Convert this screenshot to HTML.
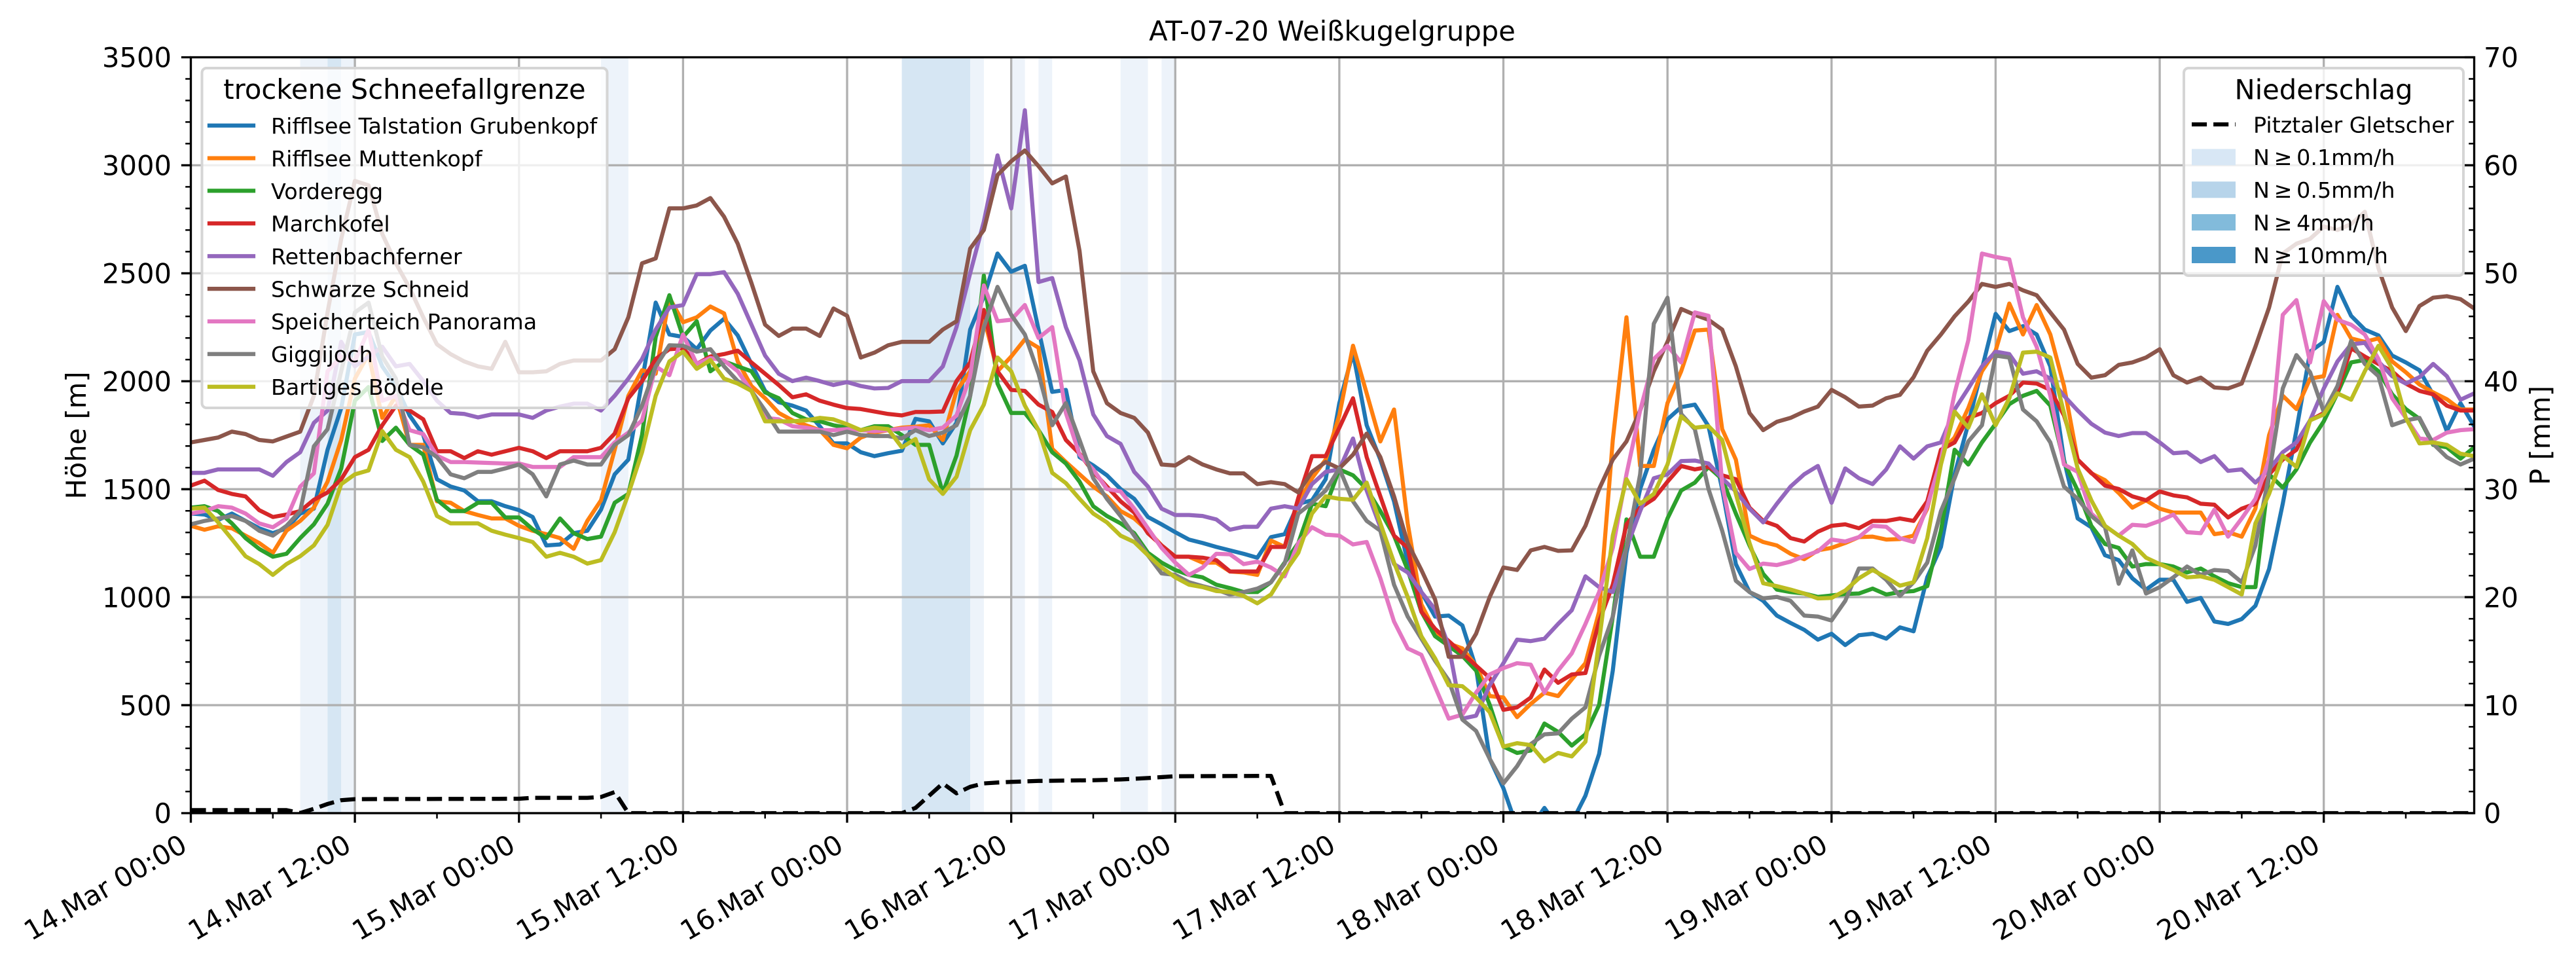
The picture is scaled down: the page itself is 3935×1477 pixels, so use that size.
<!DOCTYPE html>
<html><head><meta charset="utf-8"><style>
html,body{margin:0;padding:0;background:#fff;}
svg{display:block;}
text{font-family:"DejaVu Sans","Liberation Sans",sans-serif;fill:#000;}
</style></head><body>
<svg width="3935" height="1477" viewBox="0 0 3935 1477" xmlns="http://www.w3.org/2000/svg">
<defs><clipPath id="ax"><rect x="291.5" y="87.5" width="3488" height="1154.5"/></clipPath></defs>
<rect width="3935" height="1477" fill="#fff"/>
<!-- precipitation bands -->
<g>
<rect x="458.6" y="87.5" width="41.8" height="1154.5" fill="#edf3fa"/>
<rect x="500.4" y="87.5" width="20.9" height="1154.5" fill="#d6e6f3"/>
<rect x="521.2" y="87.5" width="20.9" height="1154.5" fill="#edf3fa"/>
<rect x="918.1" y="87.5" width="41.8" height="1154.5" fill="#edf3fa"/>
<rect x="1377.6" y="87.5" width="104.4" height="1154.5" fill="#d6e6f3"/>
<rect x="1482.0" y="87.5" width="20.9" height="1154.5" fill="#edf3fa"/>
<rect x="1544.7" y="87.5" width="20.9" height="1154.5" fill="#edf3fa"/>
<rect x="1586.4" y="87.5" width="20.9" height="1154.5" fill="#edf3fa"/>
<rect x="1711.7" y="87.5" width="41.8" height="1154.5" fill="#edf3fa"/>
<rect x="1774.4" y="87.5" width="20.9" height="1154.5" fill="#edf3fa"/>
</g>
<!-- grid -->
<g stroke="#b0b0b0" stroke-width="3.33" fill="none">
<path d="M542.1 87.5V1242M792.8 87.5V1242M1043.4 87.5V1242M1294 87.5V1242M1544.7 87.5V1242M1795.3 87.5V1242M2045.9 87.5V1242M2296.5 87.5V1242M2547.2 87.5V1242M2797.8 87.5V1242M3048.4 87.5V1242M3299.1 87.5V1242M3549.7 87.5V1242"/>
<path d="M291.5 1077.1H3779.5M291.5 912.1H3779.5M291.5 747.2H3779.5M291.5 582.3H3779.5M291.5 417.4H3779.5M291.5 252.4H3779.5"/>
</g>
<!-- series -->
<g clip-path="url(#ax)">
<g transform="translate(291.5,80) scale(20.886,0.74936)" fill="none" stroke-width="6.25" stroke-linejoin="round" stroke-linecap="square">
<polyline vector-effect="non-scaling-stroke" stroke="#1f77b4" points="0,940 1,942 2,953 3,940 4,955 5,970 6,980 7,970 8,940 9,930 10,810 11,725 12,575 13,570 14,640 15,680 16,740 17,780 18,870 19,885 20,893 21,915 22,915 23,925 24,933 25,947 26,1005 27,1003 28,980 29,975 30,932 31,860 32,830 33,670 34,510 35,575 36,580 37,605 38,567 39,543 40,577 41,635 42,690 43,713 44,720 45,730 46,762 47,797 48,797 49,815 50,823 51,817 52,812 53,747 54,752 55,797 56,755 57,565 58,498 59,410 60,447 61,435 62,565 63,692 64,688 65,825 66,842 67,862 68,890 69,910 70,947 71,962 72,978 73,993 74,1000 75,1008 76,1015 77,1022 78,1030 79,988 80,982 81,920 82,913 83,870 84,715 85,612 86,760 87,830 88,915 89,1040 90,1100 91,1150 92,1148 93,1168 94,1255 95,1440 96,1500 97,1580 98,1580 99,1540 100,1580 101,1570 102,1515 103,1430 104,1260 105,1020 106,890 107,810 108,748 109,723 110,718 111,762 112,890 113,1043 114,1100 115,1118 116,1148 117,1163 118,1177 119,1197 120,1185 121,1208 122,1188 123,1185 124,1195 125,1172 126,1180 127,1070 128,1008 129,860 130,757 131,645 132,533 133,568 134,558 135,575 136,640 137,830 138,950 139,968 140,1025 141,1035 142,1072 143,1095 144,1075 145,1075 146,1120 147,1112 148,1160 149,1165 150,1155 151,1128 152,1053 153,920 154,770 155,610 156,590 157,478 158,537 159,565 160,577 161,618 162,632 163,648 164,698 165,772 166,715 167,762"/>
<polyline vector-effect="non-scaling-stroke" stroke="#ff7f0e" points="0,965 1,973 2,966 3,970 4,985 5,1000 6,1020 7,975 8,955 9,928 10,875 11,790 12,665 13,615 14,745 15,700 16,800 17,800 18,915 19,918 20,935 21,943 22,950 23,950 24,965 25,975 26,982 27,990 28,1012 29,955 30,913 31,810 32,700 33,648 34,655 35,500 36,550 37,540 38,518 39,532 40,630 41,680 42,705 43,735 44,750 45,760 46,770 47,800 48,807 49,785 50,775 51,770 52,765 53,763 54,760 55,790 56,690 57,650 58,540 59,650 60,620 61,585 62,602 63,808 64,835 65,860 66,885 67,905 68,935 69,950 70,975 71,1005 72,1028 73,1028 74,1040 75,1040 76,1058 77,1060 78,1065 79,995 80,1008 81,918 82,868 83,830 84,740 85,598 86,695 87,793 88,728 89,960 90,1125 91,1180 92,1205 93,1215 94,1250 95,1312 96,1315 97,1355 98,1328 99,1305 100,1312 101,1278 102,1245 103,1140 104,790 105,540 106,843 107,843 108,715 109,650 110,567 111,565 112,768 113,830 114,985 115,998 116,1005 117,1022 118,1033 119,1015 120,1010 121,1000 122,988 123,987 124,993 125,992 126,985 127,930 128,815 129,785 130,725 131,650 132,608 133,512 134,575 135,515 136,575 137,680 138,830 139,858 140,872 141,898 142,928 143,913 144,930 145,938 146,938 147,938 148,982 149,978 150,987 151,930 152,780 153,700 154,727 155,665 156,660 157,535 158,583 159,590 160,583 161,630 162,652 163,677 164,693 165,707 166,728 167,728"/>
<polyline vector-effect="non-scaling-stroke" stroke="#2ca02c" points="0,928 1,925 2,935 3,960 4,990 5,1012 6,1028 7,1022 8,990 9,962 10,920 11,848 12,710 13,682 14,792 15,765 16,800 17,820 18,912 19,935 20,935 21,918 22,918 23,948 24,948 25,972 26,990 27,950 28,980 29,992 30,987 31,918 32,900 33,780 34,580 35,495 36,580 37,548 38,650 39,630 40,640 41,650 42,693 43,705 44,735 45,748 46,752 47,760 48,765 49,770 50,762 51,762 52,780 53,800 54,800 55,898 56,822 57,700 58,455 59,675 60,735 61,735 62,770 63,815 64,838 65,875 66,925 67,945 68,960 69,980 70,1020 71,1040 72,1055 73,1065 74,1070 75,1085 76,1092 77,1100 78,1100 79,1080 80,1040 81,1000 82,920 83,925 84,850 85,862 86,890 87,935 88,985 89,1055 90,1140 91,1190 92,1210 93,1230 94,1260 95,1330 96,1415 97,1428 98,1423 99,1368 100,1385 101,1413 102,1390 103,1330 104,1150 105,952 106,1028 107,1028 108,950 109,893 110,877 111,845 112,870 113,940 114,1005 115,1063 116,1095 117,1100 118,1103 119,1110 120,1107 121,1104 122,1103 123,1093 124,1105 125,1100 126,1098 127,1088 128,975 129,810 130,840 131,795 132,757 133,717 134,700 135,690 136,720 137,835 138,893 139,965 140,1002 141,1010 142,1048 143,1043 144,1043 145,1048 146,1060 147,1052 148,1068 149,1082 150,1090 151,1090 152,860 153,887 154,850 155,795 156,752 157,695 158,632 159,627 160,650 161,697 162,727 163,747 164,800 165,805 166,828 167,805"/>
<polyline vector-effect="non-scaling-stroke" stroke="#d62728" points="0,883 1,873 2,892 3,900 4,905 5,933 6,947 7,942 8,935 9,912 10,897 11,870 12,825 13,810 14,760 15,720 16,730 17,748 18,813 19,813 20,827 21,813 22,820 23,813 24,806 25,813 26,827 27,813 28,813 29,813 30,806 31,777 32,705 33,670 34,625 35,605 36,603 37,635 38,620 39,615 40,608 41,632 42,655 43,678 44,703 45,697 46,710 47,718 48,725 49,727 50,732 51,737 52,740 53,733 54,733 55,732 56,670 57,632 58,525 59,650 60,688 61,690 62,718 63,733 64,790 65,818 66,855 67,885 68,915 69,938 70,980 71,1005 72,1028 73,1028 74,1030 75,1035 76,1058 77,1058 78,1058 79,1008 80,1008 81,908 82,823 83,823 84,765 85,705 86,825 87,905 88,985 89,1010 90,1140 91,1175 92,1200 93,1225 94,1250 95,1275 96,1340 97,1335 98,1315 99,1258 100,1285 101,1268 102,1265 103,1160 104,1085 105,962 106,928 107,910 108,875 109,843 110,850 111,845 112,862 113,870 114,928 115,955 116,965 117,990 118,997 119,977 120,965 121,962 122,970 123,955 124,955 125,950 126,955 127,915 128,810 129,795 130,745 131,735 132,715 133,700 134,673 135,675 136,688 137,740 138,830 139,857 140,883 141,890 142,905 143,913 144,895 145,903 146,907 147,920 148,922 149,948 150,930 151,920 152,860 153,830 154,810 155,750 156,735 157,690 158,603 159,620 160,635 161,650 162,675 163,690 164,697 165,720 166,730 167,730"/>
<polyline vector-effect="non-scaling-stroke" stroke="#9467bd" points="0,857 1,857 2,850 3,850 4,850 5,850 6,863 7,835 8,815 9,755 10,730 11,590 12,640 13,620 14,600 15,640 16,635 17,670 18,710 19,735 20,737 21,744 22,738 23,738 24,738 25,745 26,730 27,722 28,716 29,716 30,730 31,700 32,665 33,625 34,565 35,520 36,515 37,452 38,452 39,448 40,492 41,555 42,618 43,655 44,670 45,663 46,670 47,678 48,672 49,680 50,685 51,684 52,670 53,670 54,670 55,640 56,560 57,450 58,345 59,210 60,318 61,118 62,468 63,460 64,560 65,628 66,738 67,782 68,798 69,855 70,885 71,930 72,943 73,943 74,945 75,952 76,973 77,967 78,967 79,930 80,925 81,930 82,880 83,855 84,850 85,787 86,893 87,968 88,1043 89,1060 90,1100 91,1135 92,1210 93,1358 94,1352 95,1290 96,1245 97,1197 98,1200 99,1195 100,1165 101,1137 102,1068 103,1090 104,1100 105,1010 106,935 107,868 108,860 109,833 110,832 111,838 112,868 113,895 114,930 115,958 116,920 117,885 118,860 119,843 120,918 121,848 122,868 123,880 124,850 125,803 126,828 127,803 128,795 129,728 130,685 131,640 132,610 133,615 134,655 135,650 136,665 137,700 138,730 139,757 140,775 141,782 142,776 143,776 144,795 145,817 146,815 147,835 148,823 149,853 150,850 151,877 152,850 153,815 154,795 155,750 156,685 157,630 158,595 159,592 160,630 161,660 162,675 163,662 164,635 165,660 166,708 167,695"/>
<polyline vector-effect="non-scaling-stroke" stroke="#8c564b" points="0,795 1,790 2,785 3,773 4,778 5,790 6,793 7,783 8,773 9,700 10,530 11,380 12,262 13,271 14,370 15,430 16,480 17,540 18,595 19,615 20,630 21,640 22,645 23,590 24,652 25,652 26,650 27,635 28,628 29,628 30,628 31,605 32,540 33,430 34,420 35,318 36,318 37,312 38,297 39,335 40,390 41,470 42,555 43,578 44,563 45,563 46,578 47,522 48,537 49,622 50,612 51,597 52,590 53,590 54,590 55,565 56,548 57,400 58,362 59,250 60,222 61,200 62,232 63,267 64,253 65,405 66,650 67,715 68,735 69,745 70,775 71,840 72,842 73,825 74,840 75,850 76,858 77,858 78,880 79,876 80,880 81,897 82,855 83,835 84,848 85,820 86,777 87,825 88,905 89,1000 90,1055 91,1115 92,1232 93,1232 94,1185 95,1110 96,1050 97,1055 98,1015 99,1008 100,1016 101,1015 102,965 103,890 104,830 105,793 106,730 107,650 108,590 109,523 110,535 111,545 112,565 113,640 114,735 115,770 116,753 117,745 118,732 119,722 120,688 121,703 122,722 123,720 124,705 125,698 126,662 127,608 128,575 129,538 130,508 131,472 132,478 133,472 134,485 135,495 136,530 137,565 138,635 139,663 140,658 141,637 142,632 143,622 144,605 145,658 146,673 147,663 148,683 149,685 150,675 151,600 152,520 153,410 154,390 155,380 156,355 157,362 158,350 159,325 160,440 161,520 162,568 163,517 164,500 165,497 166,503 167,522"/>
<polyline vector-effect="non-scaling-stroke" stroke="#e377c2" points="0,940 1,935 2,925 3,928 4,940 5,960 6,968 7,950 8,885 9,858 10,650 11,620 12,630 13,565 14,710 15,700 16,770 17,778 18,822 19,835 20,835 21,836 22,837 23,838 24,838 25,845 26,845 27,845 28,825 29,825 30,825 31,795 32,775 33,750 34,640 35,658 36,575 37,635 38,623 39,628 40,650 41,690 42,745 43,748 44,762 45,765 46,770 47,770 48,768 49,770 50,772 51,770 52,767 53,765 54,770 55,765 56,740 57,660 58,475 59,548 60,545 61,515 62,582 63,560 64,735 65,820 66,850 67,890 68,895 69,930 70,970 71,1010 72,1040 73,1065 74,1050 75,1022 76,1023 77,1043 78,1038 79,1050 80,1068 81,1000 82,968 83,983 84,985 85,1003 86,998 87,1072 88,1160 89,1215 90,1228 91,1293 92,1358 93,1350 94,1305 95,1268 96,1255 97,1245 98,1248 99,1305 100,1260 101,1225 102,1165 103,1100 104,1010 105,860 106,730 107,625 108,598 109,632 110,530 111,537 112,880 113,1020 114,1053 115,1042 116,1045 117,1038 118,1027 119,1017 120,993 121,997 122,988 123,965 124,967 125,990 126,998 127,925 128,830 129,695 130,587 131,410 132,417 133,422 134,540 135,600 136,700 137,840 138,855 139,940 140,965 141,985 142,963 143,965 144,955 145,942 146,978 147,980 148,932 149,987 150,950 151,910 152,830 153,535 154,505 155,632 156,507 157,545 158,555 159,575 160,625 161,705 162,745 163,787 164,790 165,775 166,770 167,768"/>
<polyline vector-effect="non-scaling-stroke" stroke="#7f7f7f" points="0,962 1,955 2,950 3,945 4,955 5,975 6,985 7,965 8,935 9,803 10,768 11,650 12,530 13,510 14,620 15,665 16,800 17,805 18,825 19,860 20,868 21,855 22,855 23,848 24,840 25,860 26,905 27,840 28,832 29,840 30,840 31,800 32,780 33,720 34,640 35,597 36,598 37,610 38,605 39,640 40,670 41,690 42,730 43,773 44,773 45,773 46,773 47,780 48,773 49,780 50,782 51,782 52,787 53,770 54,782 55,775 56,760 57,700 58,560 59,478 60,535 61,575 62,655 63,760 64,715 65,790 66,868 67,910 68,945 69,985 70,1025 71,1062 72,1065 73,1080 74,1088 75,1095 76,1105 77,1100 78,1093 79,1080 80,1042 81,940 82,918 83,893 84,848 85,915 86,955 87,975 88,1085 89,1150 90,1195 91,1240 92,1280 93,1360 94,1383 95,1440 96,1490 97,1455 98,1410 99,1390 100,1388 101,1358 102,1335 103,1230 104,1150 105,1010 106,860 107,553 108,500 109,737 110,768 111,890 112,975 113,1077 114,1100 115,1113 116,1110 117,1118 118,1148 119,1150 120,1158 121,1118 122,1052 123,1052 124,1075 125,1108 126,1080 127,1040 128,935 129,868 130,793 131,760 132,618 133,622 134,728 135,752 136,795 137,885 138,910 139,945 140,968 141,1083 142,1015 143,1103 144,1090 145,1070 146,1048 147,1065 148,1055 149,1057 150,1080 151,1005 152,860 153,685 154,617 155,652 156,733 157,680 158,588 159,635 160,660 161,760 162,750 163,745 164,798 165,825 166,840 167,828"/>
<polyline vector-effect="non-scaling-stroke" stroke="#bcbd22" points="0,930 1,928 2,958 3,992 4,1027 5,1043 6,1065 7,1043 8,1027 9,1005 10,963 11,880 12,860 13,852 14,772 15,810 16,825 17,875 18,945 19,960 20,960 21,960 22,975 23,983 24,990 25,998 26,1028 27,1020 28,1028 29,1042 30,1035 31,978 32,900 33,815 34,700 35,630 36,610 37,645 38,627 39,665 40,675 41,690 42,752 43,752 44,752 45,750 46,745 47,748 48,758 49,770 50,765 51,768 52,805 53,788 54,870 55,900 56,865 57,770 58,718 59,622 60,650 61,720 62,770 63,857 64,878 65,910 66,940 67,958 68,985 69,998 70,1025 71,1050 72,1070 73,1085 74,1090 75,1098 76,1100 77,1108 78,1123 79,1105 80,1060 81,1020 82,940 83,905 84,910 85,912 86,877 87,960 88,1040 89,1110 90,1190 91,1235 92,1290 93,1292 94,1315 95,1345 96,1415 97,1408 98,1412 99,1445 100,1428 101,1435 102,1405 103,1200 104,985 105,870 106,920 107,900 108,840 109,742 110,765 111,762 112,790 113,900 114,1000 115,1082 116,1088 117,1095 118,1103 119,1113 120,1112 121,1097 122,1072 123,1055 124,1070 125,1087 126,1080 127,990 128,840 129,732 130,765 131,697 132,760 133,705 134,612 135,610 136,622 137,735 138,848 139,913 140,965 141,985 142,1002 143,1030 144,1043 145,1055 146,1070 147,1068 148,1075 149,1090 150,1105 151,960 152,900 153,822 154,845 155,750 156,738 157,695 158,708 159,650 160,598 161,645 162,745 163,797 164,795 165,800 166,818 167,823"/>
</g>
<!-- precipitation -->
<polyline fill="none" stroke="#000" stroke-width="6.25" stroke-dasharray="23.1 10" stroke-linejoin="round" points="291.5,1237.4 437.7,1237.4 458.6,1241.7 479.5,1235.4 500.4,1228 521.2,1222.2 542.1,1220.6 792.8,1220 813.7,1218.6 897.2,1218.6 918.1,1217.3 939,1209.8 959.9,1242 1377.6,1242 1398.5,1234 1419.4,1215.3 1440.2,1196.6 1461.1,1211.7 1482,1201.8 1502.9,1196.6 1523.8,1195.2 1544.7,1194.2 1586.4,1192.8 1670,1191.7 1711.7,1190.5 1753.5,1188.4 1795.3,1185.6 1941.5,1185.1 1962.4,1242 3779.5,1242"/>
</g>
<!-- spines -->
<rect x="291.5" y="87.5" width="3488" height="1154.5" fill="none" stroke="#000" stroke-width="3.33"/>
<!-- ticks -->
<g stroke="#000" fill="none">
<path stroke-width="3.33" d="M276.9 1242H291.5M276.9 1077.1H291.5M276.9 912.1H291.5M276.9 747.2H291.5M276.9 582.3H291.5M276.9 417.4H291.5M276.9 252.4H291.5M276.9 87.5H291.5"/>
<path stroke-width="2.5" d="M283.2 1209H291.5M283.2 1176H291.5M283.2 1143H291.5M283.2 1110.1H291.5M283.2 1044.1H291.5M283.2 1011.1H291.5M283.2 978.1H291.5M283.2 945.1H291.5M283.2 879.2H291.5M283.2 846.2H291.5M283.2 813.2H291.5M283.2 780.2H291.5M283.2 714.2H291.5M283.2 681.2H291.5M283.2 648.3H291.5M283.2 615.3H291.5M283.2 549.3H291.5M283.2 516.3H291.5M283.2 483.3H291.5M283.2 450.3H291.5M283.2 384.4H291.5M283.2 351.4H291.5M283.2 318.4H291.5M283.2 285.4H291.5M283.2 219.4H291.5M283.2 186.4H291.5M283.2 153.5H291.5M283.2 120.5H291.5"/>
<path stroke-width="3.33" d="M3764.9 1242H3779.5M3764.9 1077.1H3779.5M3764.9 912.1H3779.5M3764.9 747.2H3779.5M3764.9 582.3H3779.5M3764.9 417.4H3779.5M3764.9 252.4H3779.5M3764.9 87.5H3779.5"/>
<path stroke-width="2.5" d="M3771.2 1209H3779.5M3771.2 1176H3779.5M3771.2 1143H3779.5M3771.2 1110.1H3779.5M3771.2 1044.1H3779.5M3771.2 1011.1H3779.5M3771.2 978.1H3779.5M3771.2 945.1H3779.5M3771.2 879.2H3779.5M3771.2 846.2H3779.5M3771.2 813.2H3779.5M3771.2 780.2H3779.5M3771.2 714.2H3779.5M3771.2 681.2H3779.5M3771.2 648.3H3779.5M3771.2 615.3H3779.5M3771.2 549.3H3779.5M3771.2 516.3H3779.5M3771.2 483.3H3779.5M3771.2 450.3H3779.5M3771.2 384.4H3779.5M3771.2 351.4H3779.5M3771.2 318.4H3779.5M3771.2 285.4H3779.5M3771.2 219.4H3779.5M3771.2 186.4H3779.5M3771.2 153.5H3779.5M3771.2 120.5H3779.5"/>
<path stroke-width="3.33" d="M291.5 1242V1256.6M542.1 1242V1256.6M792.8 1242V1256.6M1043.4 1242V1256.6M1294 1242V1256.6M1544.7 1242V1256.6M1795.3 1242V1256.6M2045.9 1242V1256.6M2296.5 1242V1256.6M2547.2 1242V1256.6M2797.8 1242V1256.6M3048.4 1242V1256.6M3299.1 1242V1256.6M3549.7 1242V1256.6"/>
<path stroke-width="2.5" d="M416.8 1242V1250.3M667.5 1242V1250.3M918.1 1242V1250.3M1168.7 1242V1250.3M1419.4 1242V1250.3M1670 1242V1250.3M1920.6 1242V1250.3M2171.2 1242V1250.3M2421.9 1242V1250.3M2672.5 1242V1250.3M2923.1 1242V1250.3M3173.8 1242V1250.3M3424.4 1242V1250.3M3675 1242V1250.3"/>
</g>
<!-- left tick labels -->
<g font-size="41.67" text-anchor="end">
<text x="262" y="1257.2">0</text>
<text x="262" y="1092.3">500</text>
<text x="262" y="927.3">1000</text>
<text x="262" y="762.4">1500</text>
<text x="262" y="597.5">2000</text>
<text x="262" y="432.6">2500</text>
<text x="262" y="267.6">3000</text>
<text x="262" y="102.7">3500</text>
</g>
<!-- right tick labels -->
<g font-size="41.67" text-anchor="start">
<text x="3794" y="1257.2">0</text>
<text x="3794" y="1092.3">10</text>
<text x="3794" y="927.3">20</text>
<text x="3794" y="762.4">30</text>
<text x="3794" y="597.5">40</text>
<text x="3794" y="432.6">50</text>
<text x="3794" y="267.6">60</text>
<text x="3794" y="102.7">70</text>
</g>
<!-- x tick labels -->
<g font-size="41.67" text-anchor="end">
<text transform="translate(288.5,1298.5) rotate(-30)">14.Mar 00:00</text>
<text transform="translate(539.1,1298.5) rotate(-30)">14.Mar 12:00</text>
<text transform="translate(789.8,1298.5) rotate(-30)">15.Mar 00:00</text>
<text transform="translate(1040.4,1298.5) rotate(-30)">15.Mar 12:00</text>
<text transform="translate(1291,1298.5) rotate(-30)">16.Mar 00:00</text>
<text transform="translate(1541.7,1298.5) rotate(-30)">16.Mar 12:00</text>
<text transform="translate(1792.3,1298.5) rotate(-30)">17.Mar 00:00</text>
<text transform="translate(2042.9,1298.5) rotate(-30)">17.Mar 12:00</text>
<text transform="translate(2293.5,1298.5) rotate(-30)">18.Mar 00:00</text>
<text transform="translate(2544.2,1298.5) rotate(-30)">18.Mar 12:00</text>
<text transform="translate(2794.8,1298.5) rotate(-30)">19.Mar 00:00</text>
<text transform="translate(3045.4,1298.5) rotate(-30)">19.Mar 12:00</text>
<text transform="translate(3296.1,1298.5) rotate(-30)">20.Mar 00:00</text>
<text transform="translate(3546.7,1298.5) rotate(-30)">20.Mar 12:00</text>
</g>
<!-- axis labels and title -->
<text font-size="41.67" text-anchor="middle" transform="translate(131,665) rotate(-90)">Höhe [m]</text>
<text font-size="41.67" text-anchor="middle" transform="translate(3895,665) rotate(-90)">P [mm]</text>
<text font-size="41.67" text-anchor="middle" x="2035" y="62">AT-07-20 Weißkugelgruppe</text>
<!-- left legend -->
<g>
<rect x="308.5" y="104" width="619" height="519" rx="7" ry="7" fill="#fff" fill-opacity="0.8" stroke="#d5d5d5" stroke-width="4"/>
<text font-size="41.67" text-anchor="middle" x="618" y="151">trockene Schneefallgrenze</text>
<g stroke-width="6.25" stroke-linecap="square">
<line x1="320" y1="191.7" x2="387" y2="191.7" stroke="#1f77b4"/>
<line x1="320" y1="241.6" x2="387" y2="241.6" stroke="#ff7f0e"/>
<line x1="320" y1="291.4" x2="387" y2="291.4" stroke="#2ca02c"/>
<line x1="320" y1="341.3" x2="387" y2="341.3" stroke="#d62728"/>
<line x1="320" y1="391.2" x2="387" y2="391.2" stroke="#9467bd"/>
<line x1="320" y1="441.1" x2="387" y2="441.1" stroke="#8c564b"/>
<line x1="320" y1="490.9" x2="387" y2="490.9" stroke="#e377c2"/>
<line x1="320" y1="540.8" x2="387" y2="540.8" stroke="#7f7f7f"/>
<line x1="320" y1="590.7" x2="387" y2="590.7" stroke="#bcbd22"/>
</g>
<g font-size="33.33">
<text x="414" y="204">Rifflsee Talstation Grubenkopf</text>
<text x="414" y="253.9">Rifflsee Muttenkopf</text>
<text x="414" y="303.8">Vorderegg</text>
<text x="414" y="353.6">Marchkofel</text>
<text x="414" y="403.5">Rettenbachferner</text>
<text x="414" y="453.4">Schwarze Schneid</text>
<text x="414" y="503.2">Speicherteich Panorama</text>
<text x="414" y="553.1">Giggijoch</text>
<text x="414" y="603">Bartiges Bödele</text>
</g>
</g>
<!-- right legend -->
<g>
<rect x="3336" y="104" width="427" height="317" rx="7" ry="7" fill="#fff" fill-opacity="0.8" stroke="#d5d5d5" stroke-width="4"/>
<text font-size="41.67" text-anchor="middle" x="3549.5" y="151.7">Niederschlag</text>
<line x1="3348" y1="190" x2="3415" y2="190" stroke="#000" stroke-width="6.25" stroke-dasharray="23.1 10"/>
<rect x="3348" y="227.5" width="67" height="25" fill="#d8e7f5"/>
<rect x="3348" y="277.3" width="67" height="25" fill="#b7d4ea"/>
<rect x="3348" y="327.1" width="67" height="25" fill="#82bbdb"/>
<rect x="3348" y="377" width="67" height="25" fill="#4a98c9"/>
<g font-size="33.33">
<text x="3442" y="202.3">Pitztaler Gletscher</text>
<text x="3442" y="252.2">N&#8201;≥&#8201;0.1mm/h</text>
<text x="3442" y="302">N&#8201;≥&#8201;0.5mm/h</text>
<text x="3442" y="351.9">N&#8201;≥&#8201;4mm/h</text>
<text x="3442" y="401.8">N&#8201;≥&#8201;10mm/h</text>
</g>
</g>
</svg>
</body></html>
